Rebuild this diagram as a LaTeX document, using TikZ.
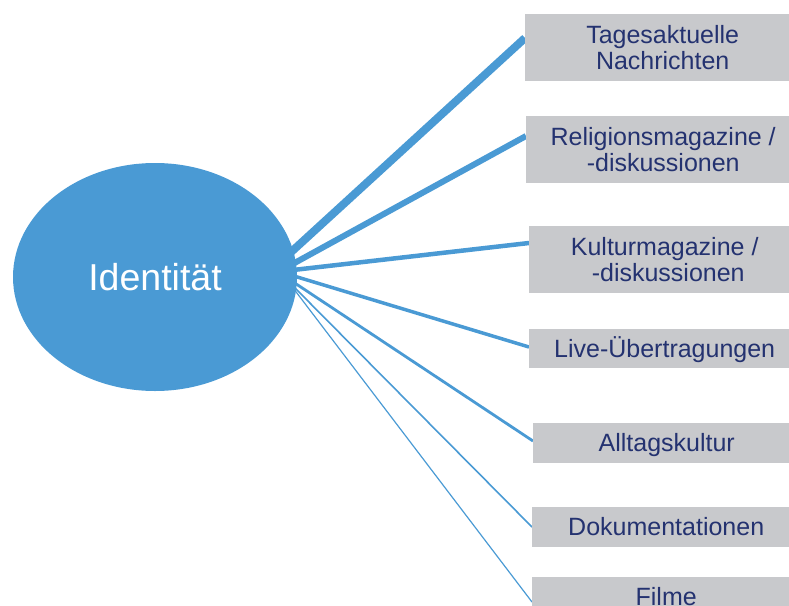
\documentclass[tikz,border=0pt]{standalone}
\usepackage{fontspec}
\setmainfont{Liberation Sans}
\usetikzlibrary{shapes.geometric,calc,backgrounds}

\definecolor{hubblue}{RGB}{74,154,212}
\definecolor{topicgrey}{RGB}{200,201,204}
\definecolor{topicnavy}{RGB}{36,50,112}

\tikzset{
  hub/.style={ellipse, fill=hubblue, inner sep=0pt,
    minimum width=284pt, minimum height=228pt,
    text=white, font=\fontsize{37.5}{40}\selectfont},
  topic/.style={fill=topicgrey, text=topicnavy, anchor=west, inner sep=0pt,
    align=center, font=\fontsize{25}{26.7}\selectfont},
  oneline/.style={text height=22pt, text depth=4.5pt},
  spoke/.style={draw=hubblue, line cap=butt}
}

\begin{document}
\begin{tikzpicture}[x=1pt,y=-1pt]
  \useasboundingbox (0,0) rectangle (789,605);
  \clip (0,0) rectangle (789,605);

  % central topic
  \node[hub] (hub) at (155,277) {Identität};

  % programme formats, widest first
  \node[topic, minimum width=275pt, minimum height=67pt] (b1) at (525,47.5)
    {Tagesaktuelle\\Nachrichten};
  \node[topic, minimum width=274pt, minimum height=67pt] (b2) at (526,149.5)
    {Religionsmagazine /\\-diskussionen};
  \node[topic, minimum width=271pt, minimum height=67pt] (b3) at (529,259.5)
    {Kulturmagazine /\\\hspace*{7pt}-diskussionen};
  \node[topic, oneline, minimum width=271pt, minimum height=39pt] (b4) at (529,348.5)
    {Live-Übertragungen};
  \node[topic, oneline, minimum width=267pt, minimum height=40pt] (b5) at (533,443)
    {Alltagskultur};
  \node[topic, oneline, minimum width=268pt, minimum height=40pt] (b6) at (532,527)
    {Dokumentationen};
  \node[topic, oneline, minimum width=268pt, minimum height=40pt] (b7) at (532,597)
    {Filme};

  % where each spoke meets its box
  \coordinate (t1) at ([yshift=9.5pt]b1.west);
  \coordinate (t2) at ([yshift=13.5pt]b2.west);
  \coordinate (t3) at ([yshift=16.5pt]b3.west);
  \coordinate (t4) at ([yshift=1.5pt]b4.west);
  \coordinate (t5) at ([yshift=2pt]b5.west);
  \coordinate (t6) at (b6.west);
  \coordinate (t7) at ([yshift=-5pt]b7.west);

  % spokes, thinning from top to bottom
  \begin{scope}[on background layer]
    \draw[spoke, line width=8pt]   ($(hub.11.1)!-8pt!(t1)$) -- (t1);
    \draw[spoke, line width=6pt]   ($(hub.6.5)!-8pt!(t2)$)  -- (t2);
    \draw[spoke, line width=4.5pt] ($(hub.3.2)!-8pt!(t3)$)  -- (t3);
    \draw[spoke, line width=3.5pt] ($(hub.-0.4)!-8pt!(t4)$) -- (t4);
    \draw[spoke, line width=2.8pt] ($(hub.-3.2)!-8pt!(t5)$) -- (t5);
    \draw[spoke, line width=1.6pt] ($(hub.-5.3)!-8pt!(t6)$) -- (t6);
    \draw[spoke, line width=1.2pt] ($(hub.-6.6)!-8pt!(t7)$) -- (t7);
  \end{scope}
\end{tikzpicture}
\end{document}
